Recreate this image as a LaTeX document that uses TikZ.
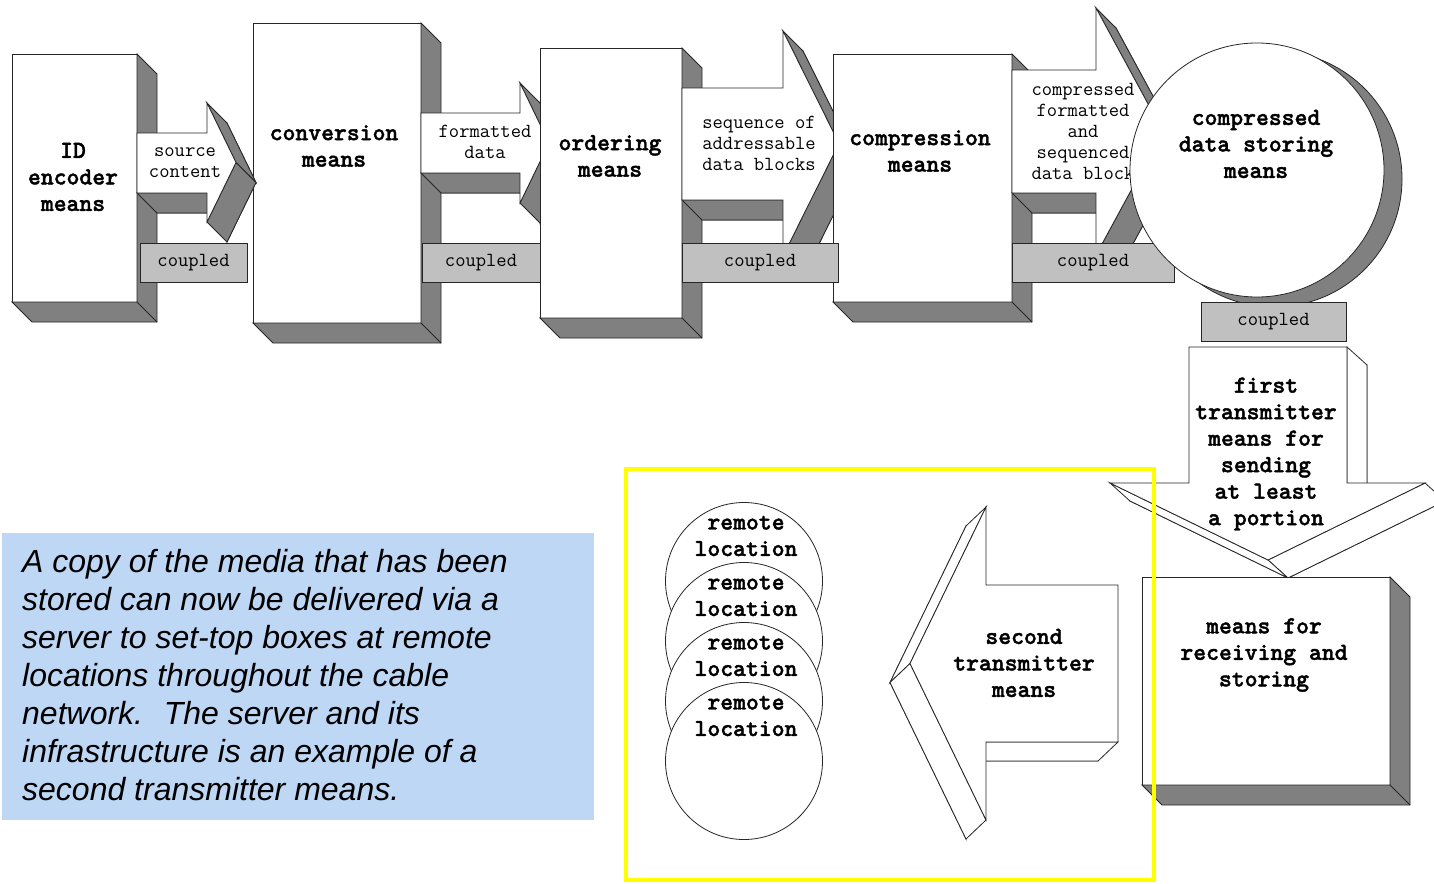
\documentclass[tikz,border=0pt]{standalone}
\usepackage{fontspec}
\newfontfamily\notefont{Liberation Sans}
\newfontfamily\heavymono{lmmonolt10-bold.otf}[FakeBold=1.6]
\usetikzlibrary{calc}
\definecolor{shadegray}{RGB}{128,128,128}
\definecolor{bargray}{RGB}{192,192,192}
\definecolor{notebg}{RGB}{190,215,245}
\definecolor{hilite}{RGB}{255,255,0}
\newcommand{\bigmono}{\heavymono\fontsize{24.5}{26.5}\selectfont}
\newcommand{\smallmono}{\ttfamily\fontsize{20}{21}\selectfont}
\newcommand{\notestyle}{\notefont\itshape\fontsize{32}{38}\selectfont}
\tikzstyle{face} = [draw=black!85, fill=white, line width=0.8pt]
\tikzstyle{side} = [draw=black!85, fill=shadegray, line width=0.8pt]
\tikzstyle{box} = [rectangle, face, inner sep=0pt, outer sep=0pt]
\tikzstyle{disc} = [circle, face, inner sep=0pt, outer sep=0pt]
\tikzstyle{bar} = [rectangle, draw=black!85, fill=bargray, line width=0.8pt, minimum height=39, inner sep=0pt, outer sep=0pt, font=\smallmono]
\tikzstyle{mainlbl} = [align=center, font=\bigmono, inner sep=0pt]
\tikzstyle{arrowlbl} = [align=center, font=\smallmono, inner sep=0pt]

% gray depth of a box node
\newcommand{\boxdepth}[1]{%
  \filldraw[side] (#1.north east) -- ++(20,20) -- ($(#1.south east)+(20,20)$) -- ($(#1.south west)+(20,20)$) -- (#1.south west) -- (#1.south east) -- cycle;
  \draw[line width=0.8pt, draw=black!85] (#1.south east) -- ++(20,20);
}
% gray block arrow to the right: shaft #1..#2, tip #3, shaft y #4..#5, head y #6..#7, depth (#8,#9)
\newcommand{\grayarrow}[9]{%
  \coordinate (p1) at (#1,#4);
  \coordinate (p2) at (#2,#4);
  \coordinate (p3) at (#2,#6);
  \coordinate (p4) at (#3,{(#6+#7)/2});
  \coordinate (p5) at (#2,#7);
  \coordinate (p6) at (#2,#5);
  \coordinate (p7) at (#1,#5);
  \foreach \i in {1,...,7} {\coordinate (q\i) at ($(p\i)+(#8,#9)$);}
  \filldraw[side] (q1) -- (q2) -- (q3) -- (q4) -- (q5) -- (q6) -- (q7) -- cycle;
  \filldraw[side] (p6) -- (p7) -- (q7) -- (q6) -- cycle;
  \filldraw[side] (p3) -- (p4) -- (q4) -- (q3) -- cycle;
  \filldraw[side] (p4) -- (p5) -- (q5) -- (q4) -- cycle;
  \filldraw[face] (p1) -- (p2) -- (p3) -- (p4) -- (p5) -- (p6) -- (p7) -- cycle;
}

\begin{document}
\begin{tikzpicture}[x=1pt, y=-1pt]
\fill[white] (0,0) rectangle (1434,883);
\useasboundingbox (0,0) rectangle (1434,883);

% top row
\node (idbox) [box, minimum width=125, minimum height=248] at (74.5,178) {};
\boxdepth{idbox}
\node (idlbl) [mainlbl] at (73,177) {ID\\encoder\\means};
\node (convbox) [box, minimum width=168, minimum height=300] at (337,173) {};
\boxdepth{convbox}
\node (convlbl) [mainlbl] at (334,146) {conversion\\means};

\grayarrow{137}{207}{236}{133}{193}{103}{222}{20}{20}
\node (srclbl) [arrowlbl] at (185,163) {source\\content};
\node (bar1) [bar, minimum width=107] at (193.5,262.5) {coupled};

\grayarrow{421}{520}{549}{113}{173}{83}{203}{20}{20}
\node (fmtlbl) [arrowlbl] at (485,142) {formatted\\data};
\node (bar2) [bar, minimum width=118] at (481,262.5) {coupled};

\node (ordbox) [box, minimum width=142, minimum height=270] at (611,183) {};
\boxdepth{ordbox}
\node (ordlbl) [mainlbl] at (610,156) {ordering\\means};

\grayarrow{682}{783}{839}{88}{200}{31}{256}{20}{20}
\node (compbox) [box, minimum width=179, minimum height=248] at (922.5,178) {};
\boxdepth{compbox}
\node (complbl) [mainlbl] at (920,151) {compression\\means};
\node (seqlbl) [arrowlbl] at (759,143) {sequence of\\addressable\\data blocks};
\node (bar3) [bar, minimum width=156] at (760,262.5) {coupled};

\grayarrow{1012}{1096}{1163}{70}{193}{8}{255}{20}{20}
\node (cfslbl) [arrowlbl] at (1083,131) {compressed\\formatted\\and\\sequenced\\data block};
\node (bar4) [bar, minimum width=162] at (1093,262.5) {coupled};

% storing disc
\filldraw[side] (1274,179) circle[radius=128];
\node (store) [disc, minimum size=254] at (1257,170) {};
\node (storelbl) [mainlbl] at (1256,144) {compressed\\data storing\\means};
\node (bar5) [bar, minimum width=145] at (1273.5,322) {coupled};

% first transmitter, downward
\coordinate (t1) at (1189,347);
\coordinate (t2) at (1347,347);
\coordinate (t3) at (1347,483);
\coordinate (t4) at (1425,483);
\coordinate (t5) at (1268,560);
\coordinate (t6) at (1110,483);
\coordinate (t7) at (1189,483);
\foreach \i in {1,...,7} {\coordinate (u\i) at ($(t\i)+(20,18)$);}
\filldraw[face] (u1) -- (u2) -- (u3) -- (u4) -- (u5) -- (u6) -- (u7) -- cycle;
\filldraw[face] (t2) -- (t3) -- (u3) -- (u2) -- cycle;
\filldraw[face] (t4) -- (t5) -- (u5) -- (u4) -- cycle;
\filldraw[face] (t5) -- (t6) -- (u6) -- (u5) -- cycle;
\filldraw[face] (t1) -- (t2) -- (t3) -- (t4) -- (t5) -- (t6) -- (t7) -- cycle;
\node (firstlbl) [mainlbl] at (1266,454) {first\\transmitter\\means for\\sending\\at least\\a portion};

\node (recvbox) [box, minimum width=248, minimum height=208] at (1266,681) {};
\boxdepth{recvbox}
\node (recvlbl) [mainlbl] at (1264,655) {means for\\receiving and\\storing};

% second transmitter, to the left
\coordinate (s1) at (1118,585);
\coordinate (s2) at (986,585);
\coordinate (s3) at (986,507);
\coordinate (s4) at (910,663.5);
\coordinate (s5) at (986,820);
\coordinate (s6) at (986,742);
\coordinate (s7) at (1118,742);
\foreach \i in {1,...,7} {\coordinate (v\i) at ($(s\i)+(-20,19)$);}
\filldraw[face] (v1) -- (v2) -- (v3) -- (v4) -- (v5) -- (v6) -- (v7) -- cycle;
\filldraw[face] (s6) -- (s7) -- (v7) -- (v6) -- cycle;
\filldraw[face] (s3) -- (s4) -- (v4) -- (v3) -- cycle;
\filldraw[face] (s4) -- (s5) -- (v5) -- (v4) -- cycle;
\filldraw[face] (s1) -- (s2) -- (s3) -- (s4) -- (s5) -- (s6) -- (s7) -- cycle;
\node (secondlbl) [mainlbl] at (1024,663) {second\\transmitter\\means};

% remote locations
\node (loc1) [disc, minimum size=157] at (744,581) {};
\node (loc1lbl) [mainlbl] at (746,536) {remote\\location};
\node (loc2) [disc, minimum size=157] at (744,641) {};
\node (loc2lbl) [mainlbl] at (746,596) {remote\\location};
\node (loc3) [disc, minimum size=157] at (744,701) {};
\node (loc3lbl) [mainlbl] at (746,656) {remote\\location};
\node (loc4) [disc, minimum size=157] at (744,761) {};
\node (loc4lbl) [mainlbl] at (746,716) {remote\\location};

% note
\node (notebox) [rectangle, fill=notebg, minimum width=592, minimum height=287, inner sep=0pt, anchor=north west] at (2,533) {};
\node (notetxt) [anchor=north west, align=left, inner sep=0pt, font=\notestyle] at (22,549) {A copy of the media that has been\\stored can now be delivered via a\\server to set-top boxes at remote\\locations throughout the cable\\network.~ The server and its\\infrastructure is an example of a\\second transmitter means.};

\draw[hilite, line width=4pt] (626,469) rectangle (1154,880);
\end{tikzpicture}
\end{document}
